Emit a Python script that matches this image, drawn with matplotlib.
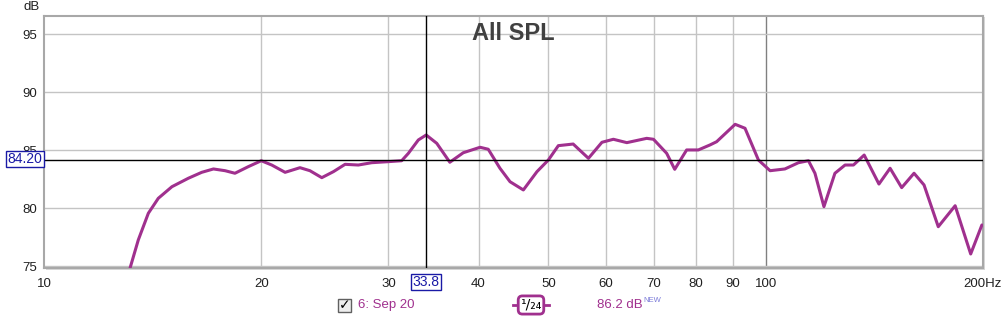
import matplotlib
matplotlib.use('Agg')
import matplotlib.pyplot as plt
from matplotlib.patches import Rectangle

plt.rcParams['font.family'] = ['Liberation Sans', 'DejaVu Sans']

# SPL trace (Hz, dB)
freqs = [13.16, 13.51, 13.95, 14.40, 15.04, 15.85, 16.54, 17.17, 17.82, 18.39,
         19.19, 20.0, 20.68, 21.58, 22.63, 23.36, 24.26, 25.18, 26.13, 27.26,
         28.45, 30.0, 31.3, 31.98, 33.01, 33.85, 35.01, 36.5, 38.1, 40.2,
         41.26, 42.83, 44.23, 46.15, 48.2, 49.98, 51.6, 54.1, 56.8, 59.3,
         61.5, 64.2, 68.4, 69.9, 72.9, 74.8, 77.7, 80.65, 83.7, 85.5,
         90.7, 93.6, 97.7, 101.4, 106.3, 111.0, 114.6, 117.0, 120.4, 124.7,
         128.8, 132.3, 136.9, 143.5, 148.7, 154.3, 160.5, 165.7, 173.4, 183.0,
         192.3, 199.3]
spl = [74.85, 77.27, 79.57, 80.86, 81.86, 82.59, 83.1, 83.39, 83.24, 83.02,
       83.59, 84.1, 83.73, 83.1, 83.5, 83.24, 82.64, 83.16, 83.79, 83.73,
       83.93, 84.02, 84.1, 84.74, 85.89, 86.32, 85.6, 83.97, 84.79, 85.26,
       85.09, 83.45, 82.29, 81.58, 83.16, 84.16, 85.4, 85.54, 84.31, 85.69,
       85.95, 85.66, 86.03, 85.95, 84.74, 83.36, 85.03, 85.03, 85.46, 85.74,
       87.24, 86.9, 84.16, 83.24, 83.39, 83.93, 84.1, 83.02, 80.14, 83.02,
       83.73, 83.73, 84.59, 82.09, 83.45, 81.78, 83.02, 82.01, 78.41, 80.22,
       76.06, 78.56]

x_ticks = [10, 20, 30, 40, 50, 60, 70, 80, 90, 100, 200]
x_labels = ['10', '20', '30', '40', '50', '60', '70', '80', '90', '100', '200Hz']
y_ticks = [75, 80, 85, 90, 95]
cursor_freq = 33.8
cursor_spl = 84.20

W, H = 1005, 320
purple = '#a0308e'
blue = '#1a1aa6'

fig = plt.figure(figsize=(W / 100, H / 100), dpi=100)
fig.patch.set_facecolor('white')

def px(x, y):
    return x / W, 1 - y / H

# frame shadow
shadow = Rectangle(px(46, 270), 939 / W, 253 / H, transform=fig.transFigure,
                   facecolor='#d8d8d8', edgecolor='none', zorder=-5)
fig.patches.append(shadow)

ax = fig.add_axes([44 / W, 1 - 268 / H, 939 / W, 252 / H])
ax.set_zorder(1)
ax.set_xscale('log')
ax.set_xlim(10, 200)
ax.set_ylim(74.85, 96.58)
ax.set_facecolor('white')

for f in x_ticks[1:-1]:
    ax.axvline(f, color='#808080' if f == 100 else '#c4c4c4', lw=1, zorder=1)
for v in y_ticks:
    ax.axhline(v, color='#c4c4c4', lw=1, zorder=1)

ax.plot(freqs, spl, color=purple, lw=2.2, zorder=3,
        solid_joinstyle='round', solid_capstyle='round')

# cursor lines
ax.axhline(cursor_spl, color='black', lw=1, zorder=4)
ax.axvline(cursor_freq, color='black', lw=1, zorder=4)

ax.set_xticks(x_ticks)
ax.set_xticklabels(x_labels)
ax.set_xticks([], minor=True)
ax.set_yticks(y_ticks)
ax.tick_params(axis='both', length=0, labelsize=9.5, colors='#202020')
ax.tick_params(axis='x', pad=7)
ax.tick_params(axis='y', pad=5)
for s in ax.spines.values():
    s.set_color('#a8a8a8')
    s.set_linewidth(1.5)

ax.text(0.5, 0.93, 'All SPL', transform=ax.transAxes, ha='center', va='center',
        fontsize=17, fontweight='bold', color='#404040')

fig.text(*px(32, 7), 'dB', fontsize=9.5, ha='center', va='center', color='#202020')

# cursor value boxes
fig.text(*px(25, 159), '84.20', fontsize=10, ha='center', va='center', color=blue, zorder=5,
         bbox=dict(boxstyle='square,pad=0.1', facecolor='white', edgecolor=blue, lw=1))
fig.text(*px(426, 282), '33.8', fontsize=10, ha='center', va='center', color=blue, zorder=5,
         bbox=dict(boxstyle='square,pad=0.1', facecolor='white', edgecolor=blue, lw=1))

# bottom legend
fig.patches.append(Rectangle(px(338, 312), 13 / W, 13 / H, transform=fig.transFigure,
                             facecolor='#eeeeee', edgecolor='#606060', lw=1))
fig.text(*px(344.5, 305), '\u2713', fontsize=10, ha='center', va='center', color='black',
         fontweight='bold', family='DejaVu Sans')
fig.text(*px(358, 305), '6: Sep 20', fontsize=9.5, ha='left', va='center', color=purple)

fig.lines.append(plt.Line2D([513 / W, 549 / W], [1 - 305 / H, 1 - 305 / H],
                            transform=fig.transFigure, color=purple, lw=2))
fig.text(*px(531, 305), '\u00b9/\u2082\u2084', fontsize=10, ha='center', va='center',
         color='black', family='DejaVu Sans',
         bbox=dict(boxstyle='round,pad=0.15,rounding_size=0.3', facecolor='white',
                   edgecolor=purple, lw=2))

fig.text(*px(597, 305), '86.2 dB', fontsize=9.5, ha='left', va='center', color=purple)
fig.text(*px(643, 301), 'NEW', fontsize=5.5, ha='left', va='center', color='#7a7ad8')

fig.savefig('out.png', dpi=100)
